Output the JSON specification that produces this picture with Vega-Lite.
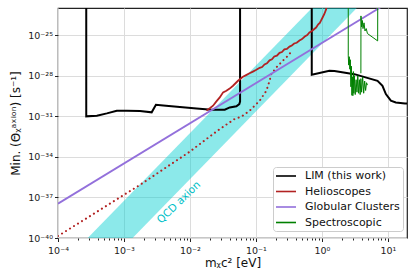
{
  "$schema": "https://vega.github.io/schema/vega-lite/v6.json",
  "width": 349,
  "height": 230,
  "autosize": {"type": "none"},
  "padding": {"left": 58, "top": 8, "right": 8, "bottom": 39},
  "config": {
    "font": "DejaVu Sans",
    "view": {"stroke": "#222222", "strokeWidth": 1.2},
    "axis": {
      "domain": false,
      "gridColor": "#dcdcdc",
      "gridWidth": 1,
      "tickColor": "#222222",
      "tickWidth": 1,
      "labelColor": "#222222",
      "labelFontSize": 9.5,
      "titleFontSize": 12,
      "titleFontWeight": "normal",
      "titleColor": "#111111",
      "labelOverlap": false,
      "labelBound": false,
      "labelFlush": false
    },
    "legend": {
      "orient": "none",
      "legendX": 215,
      "legendY": 159,
      "strokeColor": "#cccccc",
      "fillColor": "#ffffff",
      "cornerRadius": 3,
      "padding": 3,
      "symbolType": "M-2,0H2",
      "symbolSize": 100,
      "symbolStrokeWidth": 1.6,
      "symbolOffset": 4,
      "labelFontSize": 11,
      "labelOffset": 13,
      "labelColor": "#111111",
      "rowPadding": 4.5,
      "title": null
    }
  },
  "datasets": {
    "band": [
      {"m": 0.0001, "t": 5.6e-43, "t2": 2.2e-46},
      {"m": 19.5, "t": 1.6e-16, "t2": 6.4e-20}
    ],
    "label": [
      {"m": 0.0068, "t": 4.2e-38, "txt": "QCD axion"}
    ],
    "lines": [
      {"s": "LIM (this work)", "i": 1, "m": 0.000268, "t": 1e-20},
      {"s": "LIM (this work)", "i": 2, "m": 0.000268, "t": 9.8e-32},
      {"s": "LIM (this work)", "i": 3, "m": 0.000388, "t": 1.1e-31},
      {"s": "LIM (this work)", "i": 4, "m": 0.00055, "t": 1.62e-31},
      {"s": "LIM (this work)", "i": 5, "m": 0.000778, "t": 2.57e-31},
      {"s": "LIM (this work)", "i": 6, "m": 0.0011, "t": 2.57e-31},
      {"s": "LIM (this work)", "i": 7, "m": 0.00175, "t": 2.45e-31},
      {"s": "LIM (this work)", "i": 8, "m": 0.00263, "t": 1.95e-31},
      {"s": "LIM (this work)", "i": 9, "m": 0.00305, "t": 7.08e-31},
      {"s": "LIM (this work)", "i": 10, "m": 0.00394, "t": 6.31e-31},
      {"s": "LIM (this work)", "i": 11, "m": 0.00703, "t": 4.79e-31},
      {"s": "LIM (this work)", "i": 12, "m": 0.0126, "t": 3.8e-31},
      {"s": "LIM (this work)", "i": 13, "m": 0.0212, "t": 3.02e-31},
      {"s": "LIM (this work)", "i": 14, "m": 0.0337, "t": 3.02e-31},
      {"s": "LIM (this work)", "i": 15, "m": 0.0401, "t": 4.47e-31},
      {"s": "LIM (this work)", "i": 16, "m": 0.0506, "t": 5.37e-31},
      {"s": "LIM (this work)", "i": 17, "m": 0.056, "t": 7.9e-31},
      {"s": "LIM (this work)", "i": 18, "m": 0.0575, "t": 1.2e-30},
      {"s": "LIM (this work)", "i": 19, "m": 0.0575, "t": 1e-20},
      {"s": "LIM (this work)", "i": 20, "m": 0.702, "t": 1e-20},
      {"s": "LIM (this work)", "i": 21, "m": 0.702, "t": 1.15e-28},
      {"s": "LIM (this work)", "i": 22, "m": 1.3, "t": 2.29e-28},
      {"s": "LIM (this work)", "i": 23, "m": 1.55, "t": 2.24e-28},
      {"s": "LIM (this work)", "i": 24, "m": 3.1, "t": 1.29e-28},
      {"s": "LIM (this work)", "i": 25, "m": 6.97, "t": 4.17e-29},
      {"s": "LIM (this work)", "i": 26, "m": 8.28, "t": 1.78e-29},
      {"s": "LIM (this work)", "i": 27, "m": 9.33, "t": 4.37e-30},
      {"s": "LIM (this work)", "i": 28, "m": 11.1, "t": 1.41e-30},
      {"s": "LIM (this work)", "i": 29, "m": 13.2, "t": 1.05e-30},
      {"s": "LIM (this work)", "i": 30, "m": 18.2, "t": 8.9e-31},
      {"s": "LIM (this work)", "i": 31, "m": 20, "t": 8.6e-31},

      {"s": "Helioscopes", "i": 1, "m": 0.0178, "t": 2.6e-31},
      {"s": "Helioscopes", "i": 2, "m": 0.02, "t": 3.9e-31},
      {"s": "Helioscopes", "i": 3, "m": 0.0224, "t": 6.0e-31},
      {"s": "Helioscopes", "i": 4, "m": 0.025, "t": 1.2e-30},
      {"s": "Helioscopes", "i": 5, "m": 0.0283, "t": 2.45e-30},
      {"s": "Helioscopes", "i": 6, "m": 0.0318, "t": 5.8e-30},
      {"s": "Helioscopes", "i": 7, "m": 0.0357, "t": 7.6e-30},
      {"s": "Helioscopes", "i": 8, "m": 0.04, "t": 1.1e-29},
      {"s": "Helioscopes", "i": 9, "m": 0.045, "t": 1.8e-29},
      {"s": "Helioscopes", "i": 10, "m": 0.0535, "t": 4.2e-29},
      {"s": "Helioscopes", "i": 11, "m": 0.059, "t": 6.2e-29},
      {"s": "Helioscopes", "i": 12, "m": 0.0637, "t": 8.3e-29},
      {"s": "Helioscopes", "i": 13, "m": 0.071, "t": 1.1e-28},
      {"s": "Helioscopes", "i": 14, "m": 0.08, "t": 1.5e-28},
      {"s": "Helioscopes", "i": 15, "m": 0.09, "t": 2.0e-28},
      {"s": "Helioscopes", "i": 16, "m": 0.1, "t": 2.6e-28},
      {"s": "Helioscopes", "i": 17, "m": 0.114, "t": 3.8e-28},
      {"s": "Helioscopes", "i": 18, "m": 0.124, "t": 4.3e-28},
      {"s": "Helioscopes", "i": 19, "m": 0.135, "t": 6.8e-28},
      {"s": "Helioscopes", "i": 20, "m": 0.147, "t": 8.2e-28},
      {"s": "Helioscopes", "i": 21, "m": 0.161, "t": 1.35e-27},
      {"s": "Helioscopes", "i": 22, "m": 0.175, "t": 1.6e-27},
      {"s": "Helioscopes", "i": 23, "m": 0.19, "t": 2.6e-27},
      {"s": "Helioscopes", "i": 24, "m": 0.208, "t": 3.0e-27},
      {"s": "Helioscopes", "i": 25, "m": 0.228, "t": 4.9e-27},
      {"s": "Helioscopes", "i": 26, "m": 0.248, "t": 5.6e-27},
      {"s": "Helioscopes", "i": 27, "m": 0.27, "t": 8.8e-27},
      {"s": "Helioscopes", "i": 28, "m": 0.295, "t": 9.6e-27},
      {"s": "Helioscopes", "i": 29, "m": 0.323, "t": 1.4e-26},
      {"s": "Helioscopes", "i": 30, "m": 0.35, "t": 1.7e-26},
      {"s": "Helioscopes", "i": 31, "m": 0.38, "t": 2.4e-26},
      {"s": "Helioscopes", "i": 32, "m": 0.415, "t": 2.7e-26},
      {"s": "Helioscopes", "i": 33, "m": 0.457, "t": 4.0e-26},
      {"s": "Helioscopes", "i": 34, "m": 0.5, "t": 5.0e-26},
      {"s": "Helioscopes", "i": 35, "m": 0.55, "t": 7.8e-26},
      {"s": "Helioscopes", "i": 36, "m": 0.6, "t": 1.0e-25},
      {"s": "Helioscopes", "i": 37, "m": 0.647, "t": 1.55e-25},
      {"s": "Helioscopes", "i": 38, "m": 0.7, "t": 1.9e-25},
      {"s": "Helioscopes", "i": 39, "m": 0.76, "t": 2.7e-25},
      {"s": "Helioscopes", "i": 40, "m": 0.817, "t": 3.6e-25},
      {"s": "Helioscopes", "i": 41, "m": 0.88, "t": 6.2e-25},
      {"s": "Helioscopes", "i": 42, "m": 0.93, "t": 8.0e-25},
      {"s": "Helioscopes", "i": 43, "m": 0.973, "t": 1.2e-24},
      {"s": "Helioscopes", "i": 44, "m": 1.02, "t": 1.9e-24},
      {"s": "Helioscopes", "i": 45, "m": 1.09, "t": 3.6e-24},
      {"s": "Helioscopes", "i": 46, "m": 1.16, "t": 8.1e-24},
      {"s": "Helioscopes", "i": 47, "m": 1.2, "t": 3e-23},
      {"s": "Helioscopes", "i": 48, "m": 1.22, "t": 1e-22},

      {"s": "Helio-projected", "i": 1, "m": 0.0001, "t": 1.4e-40},
      {"s": "Helio-projected", "i": 2, "m": 0.00175, "t": 8.5e-37},
      {"s": "Helio-projected", "i": 3, "m": 0.00998, "t": 2.45e-34},
      {"s": "Helio-projected", "i": 4, "m": 0.0263, "t": 8.7e-33},
      {"s": "Helio-projected", "i": 5, "m": 0.0476, "t": 6.3e-32},
      {"s": "Helio-projected", "i": 6, "m": 0.0601, "t": 9.3e-32},
      {"s": "Helio-projected", "i": 7, "m": 0.0804, "t": 2.57e-31},
      {"s": "Helio-projected", "i": 8, "m": 0.114, "t": 1.41e-30},
      {"s": "Helio-projected", "i": 9, "m": 0.144, "t": 7.6e-30},
      {"s": "Helio-projected", "i": 10, "m": 0.161, "t": 4.17e-29},
      {"s": "Helio-projected", "i": 11, "m": 0.171, "t": 1.29e-28},
      {"s": "Helio-projected", "i": 12, "m": 0.203, "t": 3.98e-28},
      {"s": "Helio-projected", "i": 13, "m": 0.256, "t": 1.26e-27},
      {"s": "Helio-projected", "i": 14, "m": 0.304, "t": 2.88e-27},
      {"s": "Helio-projected", "i": 15, "m": 0.35, "t": 6.5e-27},

      {"s": "Globular Clusters", "i": 1, "m": 0.0001, "t": 3.47e-38},
      {"s": "Globular Clusters", "i": 2, "m": 20, "t": 1.9e-22},

      {"s": "Spectroscopic", "g": "a", "i": 1, "m": 2.51, "t": 1e-20},
      {"s": "Spectroscopic", "g": "a", "i": 2, "m": 2.51, "t": 2.9e-27},
      {"s": "Spectroscopic", "g": "a", "i": 3, "m": 2.55, "t": 6e-28},
      {"s": "Spectroscopic", "g": "a", "i": 4, "m": 2.6, "t": 2.5e-27},
      {"s": "Spectroscopic", "g": "a", "i": 5, "m": 2.65, "t": 3e-28},
      {"s": "Spectroscopic", "g": "a", "i": 6, "m": 2.7, "t": 1.5e-27},
      {"s": "Spectroscopic", "g": "a", "i": 7, "m": 2.75, "t": 1.5e-29},
      {"s": "Spectroscopic", "g": "a", "i": 8, "m": 2.8, "t": 5e-28},
      {"s": "Spectroscopic", "g": "a", "i": 9, "m": 2.85, "t": 3.5e-30},
      {"s": "Spectroscopic", "g": "a", "i": 10, "m": 2.9, "t": 8e-29},
      {"s": "Spectroscopic", "g": "a", "i": 11, "m": 2.95, "t": 3.3e-30},
      {"s": "Spectroscopic", "g": "a", "i": 12, "m": 3.0, "t": 2e-28},
      {"s": "Spectroscopic", "g": "a", "i": 13, "m": 3.05, "t": 5e-30},
      {"s": "Spectroscopic", "g": "a", "i": 14, "m": 3.1, "t": 1e-28},
      {"s": "Spectroscopic", "g": "a", "i": 15, "m": 3.2, "t": 4e-30},
      {"s": "Spectroscopic", "g": "a", "i": 16, "m": 3.3, "t": 5e-29},
      {"s": "Spectroscopic", "g": "a", "i": 17, "m": 3.4, "t": 6e-30},
      {"s": "Spectroscopic", "g": "a", "i": 18, "m": 3.5, "t": 1e-28},
      {"s": "Spectroscopic", "g": "a", "i": 19, "m": 3.6, "t": 5e-30},
      {"s": "Spectroscopic", "g": "a", "i": 20, "m": 3.7, "t": 5e-29},
      {"s": "Spectroscopic", "g": "a", "i": 21, "m": 3.8, "t": 4e-30},
      {"s": "Spectroscopic", "g": "a", "i": 22, "m": 3.9, "t": 6e-29},
      {"s": "Spectroscopic", "g": "a", "i": 23, "m": 4.0, "t": 6e-30},
      {"s": "Spectroscopic", "g": "a", "i": 24, "m": 4.15, "t": 8e-29},
      {"s": "Spectroscopic", "g": "a", "i": 25, "m": 4.3, "t": 5e-30},
      {"s": "Spectroscopic", "g": "a", "i": 26, "m": 4.45, "t": 4e-29},
      {"s": "Spectroscopic", "g": "a", "i": 27, "m": 4.6, "t": 8e-30},
      {"s": "Spectroscopic", "g": "a", "i": 28, "m": 4.75, "t": 3e-29},
      {"s": "Spectroscopic", "g": "a", "i": 29, "m": 4.9, "t": 2e-29},
      {"s": "Spectroscopic", "g": "b", "i": 1, "m": 3.9, "t": 1.5e-28},
      {"s": "Spectroscopic", "g": "b", "i": 2, "m": 3.91, "t": 2.6e-24},
      {"s": "Spectroscopic", "g": "b", "i": 3, "m": 4.0, "t": 4e-25},
      {"s": "Spectroscopic", "g": "b", "i": 4, "m": 4.1, "t": 1.2e-24},
      {"s": "Spectroscopic", "g": "b", "i": 5, "m": 4.2, "t": 3e-25},
      {"s": "Spectroscopic", "g": "b", "i": 6, "m": 4.35, "t": 8e-25},
      {"s": "Spectroscopic", "g": "b", "i": 7, "m": 4.5, "t": 2e-25},
      {"s": "Spectroscopic", "g": "b", "i": 8, "m": 4.7, "t": 3e-25},
      {"s": "Spectroscopic", "g": "b", "i": 9, "m": 4.9, "t": 1.3e-25},
      {"s": "Spectroscopic", "g": "b", "i": 10, "m": 7.0, "t": 3.7e-26},
      {"s": "Spectroscopic", "g": "b", "i": 11, "m": 7.05, "t": 1e-20}
    ]
  },
  "encoding": {
    "x": {
      "field": "m",
      "type": "quantitative",
      "scale": {"type": "log", "domain": [0.0001, 19.5], "nice": false},
      "axis": {
        "title": "mᵪc² [eV]",
        "values": [0.0001, 0.0002, 0.0003, 0.0004, 0.0005, 0.0006, 0.0007, 0.0008, 0.0009, 0.001, 0.002, 0.003, 0.004, 0.005, 0.006, 0.007, 0.008, 0.009, 0.01, 0.02, 0.03, 0.04, 0.05, 0.06, 0.07, 0.08, 0.09, 0.1, 0.2, 0.3, 0.4, 0.5, 0.6, 0.7, 0.8, 0.9, 1, 2, 3, 4, 5, 6, 7, 8, 9, 10],
        "labelExpr": "abs(log(datum.value)/LN10 - round(log(datum.value)/LN10)) < 0.000001 ? '10' + replace(replace(replace(replace(replace(replace(replace(replace(replace(replace(replace('' + round(log(datum.value)/LN10), '-', '⁻'), '0', '⁰'), '1', '¹'), '2', '²'), '3', '³'), '4', '⁴'), '5', '⁵'), '6', '⁶'), '7', '⁷'), '8', '⁸'), '9', '⁹') : ''",
        "tickSize": {"condition": {"test": "abs(log(datum.value)/LN10 - round(log(datum.value)/LN10)) < 0.000001", "value": 3.5}, "value": 2},
        "gridOpacity": {"condition": {"test": "abs(log(datum.value)/LN10 - round(log(datum.value)/LN10)) < 0.000001", "value": 1}, "value": 0},
        "labelPadding": 3.5,
        "titlePadding": 3,
        "grid": true
      }
    },
    "y": {
      "field": "t",
      "type": "quantitative",
      "scale": {"type": "log", "domain": [1e-40, 1e-23], "nice": false},
      "axis": {
        "title": "Min. (Θᵪᵃˣⁱᵒⁿ) [s⁻¹]",
        "values": [1e-40, 1e-37, 1e-34, 1e-31, 1e-28, 1e-25],
        "labelExpr": "'10' + replace(replace(replace(replace(replace(replace(replace(replace(replace(replace(replace('' + round(log(datum.value)/LN10), '-', '⁻'), '0', '⁰'), '1', '¹'), '2', '²'), '3', '³'), '4', '⁴'), '5', '⁵'), '6', '⁶'), '7', '⁷'), '8', '⁸'), '9', '⁹')",
        "tickSize": 3.5,
        "labelPadding": 2,
        "titlePadding": 5,
        "grid": true
      }
    }
  },
  "layer": [
    {
      "data": {"name": "band"},
      "mark": {"type": "area", "color": "#00ced1", "opacity": 0.45, "clip": true},
      "encoding": {"y2": {"field": "t2"}}
    },
    {
      "data": {"name": "lines"},
      "transform": [{"filter": "datum.s == 'LIM (this work)'"}],
      "mark": {"type": "line", "strokeWidth": 2, "clip": true},
      "encoding": {
        "order": {"field": "i", "type": "quantitative"},
        "color": {"field": "s", "type": "nominal", "scale": {"domain": ["LIM (this work)", "Helioscopes", "Globular Clusters", "Spectroscopic"], "range": ["#000000", "#b22222", "#9370db", "#008000"]}}
      }
    },
    {
      "data": {"name": "lines"},
      "transform": [{"filter": "datum.s == 'Helioscopes'"}],
      "mark": {"type": "line", "strokeWidth": 1.8, "clip": true},
      "encoding": {
        "order": {"field": "i", "type": "quantitative"},
        "color": {"field": "s", "type": "nominal"}
      }
    },
    {
      "data": {"name": "lines"},
      "transform": [{"filter": "datum.s == 'Helio-projected'"}],
      "mark": {"type": "line", "strokeWidth": 2, "color": "#b22222", "strokeDash": [0.1, 4.6], "strokeCap": "round", "clip": true},
      "encoding": {
        "order": {"field": "i", "type": "quantitative"}
      }
    },
    {
      "data": {"name": "lines"},
      "transform": [{"filter": "datum.s == 'Globular Clusters'"}],
      "mark": {"type": "line", "strokeWidth": 1.8, "clip": true},
      "encoding": {
        "order": {"field": "i", "type": "quantitative"},
        "color": {"field": "s", "type": "nominal"}
      }
    },
    {
      "data": {"name": "lines"},
      "transform": [{"filter": "datum.s == 'Spectroscopic'"}],
      "mark": {"type": "line", "strokeWidth": 1, "clip": true},
      "encoding": {
        "order": {"field": "i", "type": "quantitative"},
        "detail": {"field": "g", "type": "nominal"},
        "color": {"field": "s", "type": "nominal"}
      }
    },
    {
      "data": {"name": "label"},
      "mark": {"type": "text", "angle": 316, "color": "#00bfc8", "fontSize": 10.5, "align": "center", "baseline": "middle"},
      "encoding": {"text": {"field": "txt"}}
    }
  ]
}
